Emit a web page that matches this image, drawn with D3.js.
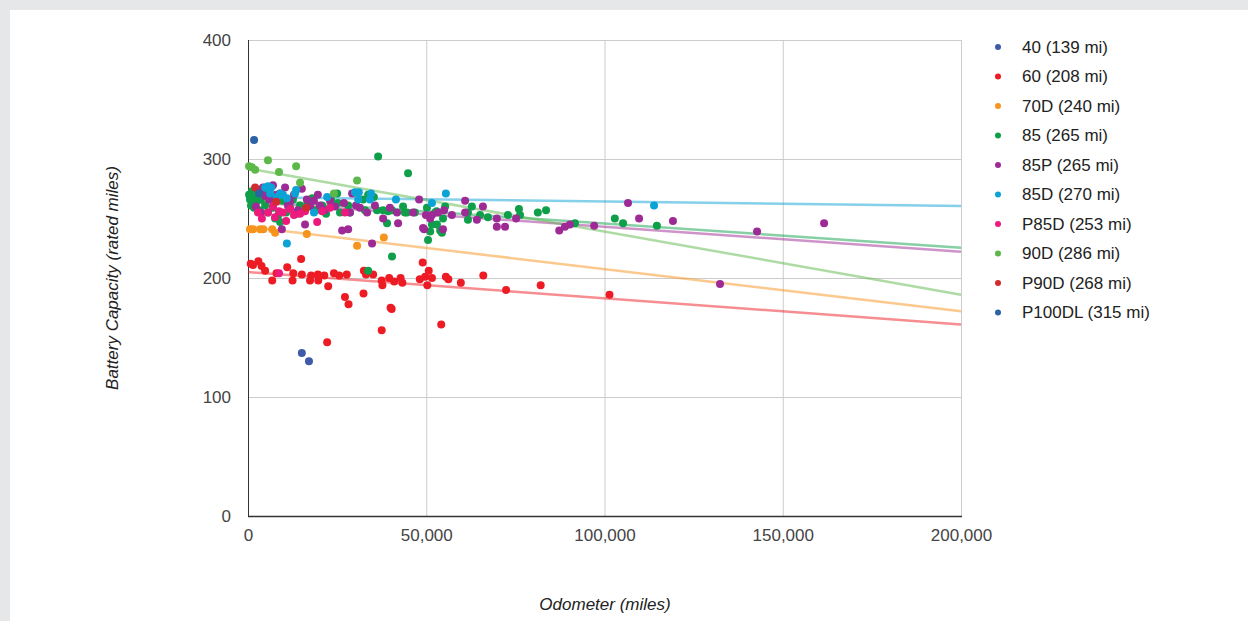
<!DOCTYPE html>
<html><head><meta charset="utf-8">
<script src="https://cdn.jsdelivr.net/npm/d3@7"></script>
<style>
html,body{margin:0;padding:0;background:#e6e7e8;}
svg{display:block;}
text{font-family:"Liberation Sans",Arial,sans-serif;}
</style></head>
<body>
<svg id="c" width="1248" height="621"></svg>
<script>
// ---- DATA ----
const seriesNames = ["40 (139 mi)","60 (208 mi)","70D (240 mi)","85 (265 mi)","85P (265 mi)","85D (270 mi)","P85D (253 mi)","90D (286 mi)","P90D (268 mi)","P100DL (315 mi)"];
const seriesColors = ["#3f5aa9","#ed1c24","#f7941d","#0f9f4a","#9e2a96","#0ba2d6","#ec1a7d","#5cb848","#d12a2f","#2b63a5"];
const xTicks = [0,50000,100000,150000,200000];
const yTicks = [0,100,200,300,400];

const s40 = [[15100,137],[17100,130]];
const s60 = [[760,212],[1400,211],[2900,214],[3800,210],[4800,206],[6800,198],[8000,204],[11000,209],[12500,198],[12700,204],[14900,216],[15100,203],[17400,198],[17700,202],[19600,203],[19700,198],[21400,202],[22500,193],[22200,146],[24100,204],[25600,202],[27200,184],[27700,203],[28200,178],[32500,206],[32400,187],[33100,203],[35100,203],[37500,198],[37500,156],[37700,194],[39600,200],[40000,175],[40300,174],[41000,197],[42800,200],[43300,196],[48200,199],[49000,213],[49700,201],[50300,194],[50700,206],[51600,200],[54200,161],[55500,201],[56200,199],[59700,196],[66000,202],[72400,190],[82100,194],[101400,186]];
const s70D = [[560,241],[1400,241],[3400,241],[4300,241],[6800,241],[7600,238],[16500,237],[30600,227],[38100,234]];
const s85 = [[300,270],[560,266],[840,261],[1100,273],[1400,266],[1700,259],[2200,263],[2500,269],[3100,257],[3600,266],[4200,272],[4800,261],[5600,255],[6200,267],[7000,259],[7600,250],[8400,252],[9000,247],[9800,265],[10700,255],[11800,259],[12600,266],[13700,254],[14600,261],[15700,256],[16800,263],[18000,267],[19100,257],[20800,261],[21900,254],[23300,266],[25000,271],[25200,263],[25800,255],[28100,261],[28600,255],[32300,266],[32800,257],[33700,270],[33700,206],[35300,268],[36200,257],[36500,302],[37900,257],[39000,246],[39300,256],[40400,218],[40400,257],[43500,260],[44000,255],[44600,255],[44900,288],[46800,255],[50200,259],[50500,232],[51100,239],[51600,245],[52500,255],[52900,256],[53000,245],[53900,240],[54400,238],[54700,250],[55300,260],[61700,255],[61700,249],[62800,260],[65100,253],[67300,251],[72900,253],[76000,258],[76300,253],[81300,255],[83600,257],[91700,246],[102900,250],[105200,246],[114700,244]];
const s85P = [[2200,260],[3400,274],[3600,255],[4200,276],[4800,269],[5900,266],[7000,278],[7900,270],[9000,271],[9500,241],[10400,276],[11200,261],[11800,264],[12900,270],[14000,257],[15100,275],[16000,245],[16500,266],[17400,260],[18500,265],[19600,270],[20200,261],[21600,257],[23000,265],[24400,260],[26400,240],[26900,263],[28100,241],[29200,271],[28600,255],[30300,261],[31400,259],[33400,255],[34800,229],[35600,261],[37900,250],[39800,259],[41800,255],[42100,246],[46300,255],[48000,266],[49100,242],[49400,241],[49900,253],[51100,250],[51600,253],[53300,255],[54700,241],[55000,257],[57200,253],[60900,265],[60900,255],[64200,249],[65900,260],[69800,250],[69800,243],[72100,243],[75200,250],[87300,240],[88900,243],[90300,245],[97100,244],[106600,263],[109700,250],[119200,248],[132400,195],[142800,239],[161600,246]];
const s85D = [[4800,276],[5600,277],[6500,276],[6200,271],[8100,268],[9000,271],[9800,270],[10900,267],[10900,229],[13200,271],[13500,274],[18500,255],[22200,268],[30000,272],[31100,272],[30900,266],[34500,271],[34200,266],[41500,266],[51600,263],[55500,271],[113900,261]];
const sP85D = [[2800,255],[3900,250],[5600,255],[7000,260],[7600,251],[8700,256],[9800,255],[10700,248],[11800,258],[12900,253],[14600,254],[16000,256],[19400,247],[20800,256],[23000,259],[27200,255],[8700,204]];
const s90D = [[300,294],[1100,293],[2000,291],[5600,299],[8700,289],[13500,294],[14600,280],[24100,271],[30600,282]];
const sP90D = [[2000,276],[7900,264],[16300,259]];
const sP100DL = [[1700,316],[3100,271]];
const seriesData = [s40,s60,s70D,s85,s85P,s85D,sP85D,s90D,sP90D,sP100DL];

// trend lines: [series index, value at 0 mi, value at 200,000 mi]
const trendSeries = [1,2,3,4,5,7];
const trendStart = [205,243,266,264,268,292];
const trendEnd   = [161,172,225.5,222,260.5,186];

// ---- DRAW ----
const svg = d3.select("#c");
svg.append("rect").attr("x",10).attr("y",10).attr("width",1238).attr("height",611).attr("fill","#ffffff");

const x = d3.scaleLinear().domain([0,200000]).range([248,961]);
const y = d3.scaleLinear().domain([0,400]).range([516,40]);

// gridlines
const g = svg.append("g");
g.selectAll("line.h").data(yTicks.filter(d=>d>0)).join("line")
 .attr("x1",x(0)).attr("x2",x(200000)).attr("y1",d=>y(d)+0.5).attr("y2",d=>y(d)+0.5)
 .attr("stroke","#cccccc").attr("stroke-width",1);
g.selectAll("line.v").data(xTicks.filter(d=>d>0)).join("line")
 .attr("y1",y(0)).attr("y2",y(400)).attr("x1",d=>x(d)+0.5).attr("x2",d=>x(d)+0.5)
 .attr("stroke","#cccccc").attr("stroke-width",1);

// axes via d3
const yAxis = d3.axisLeft(y).tickValues(yTicks).tickSize(0).tickPadding(17).tickFormat(d3.format("d"));
const xAxis = d3.axisBottom(x).tickValues(xTicks).tickSize(0).tickPadding(13).tickFormat(d3.format(","));
const ya = svg.append("g").attr("transform",`translate(${x(0)},0)`).call(yAxis);
const xa = svg.append("g").attr("transform",`translate(0,${y(0)})`).call(xAxis);
[ya,xa].forEach(a=>{
  a.select(".domain").remove();
  a.selectAll("text").attr("font-size",17).attr("fill","#444").attr("font-family","'Liberation Sans',Arial,sans-serif");
});
// axis lines
svg.append("line").attr("x1",x(0)+0.5).attr("x2",x(0)+0.5).attr("y1",y(400)).attr("y2",y(0)).attr("stroke","#333").attr("stroke-width",1);
svg.append("line").attr("x1",x(0)).attr("x2",x(200000)+1).attr("y1",y(0)+0.5).attr("y2",y(0)+0.5).attr("stroke","#333").attr("stroke-width",1.5);

// trend lines
svg.append("g").selectAll("line").data(trendSeries).join("line")
 .attr("x1",x(0)).attr("x2",x(200000))
 .attr("y1",(d,i)=>y(trendStart[i])).attr("y2",(d,i)=>y(trendEnd[i]))
 .attr("stroke",d=>seriesColors[d]).attr("stroke-opacity",0.5).attr("stroke-width",2.5);

// points
seriesData.forEach((data,si)=>{
  svg.append("g").selectAll("circle").data(data).join("circle")
   .attr("cx",d=>x(d[0])).attr("cy",d=>y(d[1])).attr("r",4)
   .attr("fill",seriesColors[si]);
});

// legend
const lg = svg.append("g");
seriesNames.forEach((n,i)=>{
  const yy = 47 + i*29.5;
  lg.append("circle").attr("cx",998).attr("cy",yy).attr("r",3).attr("fill",seriesColors[i]);
  lg.append("text").attr("x",1022).attr("y",yy).attr("dy","0.35em").attr("font-size",17).attr("fill","#222").text(n);
});

// axis titles
svg.append("text").attr("transform","translate(118,278) rotate(-90)").attr("text-anchor","middle")
 .attr("font-size",17).attr("font-style","italic").attr("fill","#222").text("Battery Capacity (rated miles)");
svg.append("text").attr("x",605).attr("y",604).attr("dy","0.35em").attr("text-anchor","middle")
 .attr("font-size",17).attr("font-style","italic").attr("fill","#222").text("Odometer (miles)");
</script>
</body></html>
